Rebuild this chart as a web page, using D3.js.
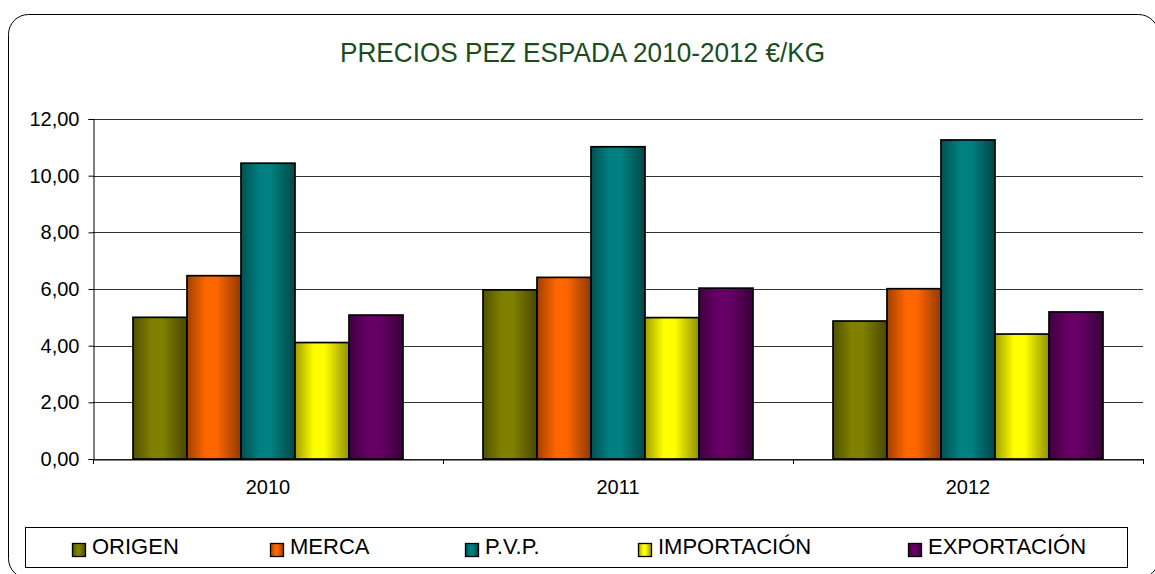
<!DOCTYPE html>
<html>
<head>
<meta charset="utf-8">
<script src="https://cdn.jsdelivr.net/npm/d3@7"></script>
<style>
  body { margin: 0; background: #fff; }
  svg text { font-family: "Liberation Sans", Arial, sans-serif; }
</style>
</head>
<body>
<div id="chart"></div>
<script>
// data
var years = ["2010", "2011", "2012"];
var series = ["ORIGEN", "MERCA", "P.V.P.", "IMPORTACIÓN", "EXPORTACIÓN"];
var colors = ["#808000", "#ff6600", "#008080", "#ffff00", "#660066"];
var origen = [5.00, 5.97, 4.87];
var merca = [6.47, 6.41, 6.01];
var pvp = [10.44, 11.02, 11.26];
var importacion = [4.11, 4.99, 4.41];
var exportacion = [5.08, 6.03, 5.19];
var yTicks = [0, 2, 4, 6, 8, 10, 12];

var values = [origen, merca, pvp, importacion, exportacion];

var W = 1155, H = 574;
var margin = { top: 119, right: 12, bottom: 115, left: 93 };
var width = W - margin.left - margin.right,
    height = H - margin.top - margin.bottom;

var svg = d3.select("#chart").append("svg")
    .attr("width", W)
    .attr("height", H);

// gradients for the bars (dark edges, bright middle)
var defs = svg.append("defs");
colors.forEach(function (c, i) {
  var g = defs.append("linearGradient").attr("id", "grad" + i)
    .attr("x1", "0%").attr("x2", "100%").attr("y1", "0%").attr("y2", "0%");
  var base = d3.color(c);
  g.append("stop").attr("offset", "0%").attr("stop-color", base.darker(1.3));
  g.append("stop").attr("offset", "35%").attr("stop-color", base);
  g.append("stop").attr("offset", "55%").attr("stop-color", base);
  g.append("stop").attr("offset", "100%").attr("stop-color", base.darker(1.6));
});

// outer rounded frame
svg.append("rect")
  .attr("x", 8.5).attr("y", 14.5)
  .attr("width", 1150).attr("height", 564)
  .attr("rx", 20).attr("ry", 20)
  .attr("fill", "#fff").attr("stroke", "#000").attr("stroke-width", 1);

// title (narrow look)
svg.append("text")
  .attr("x", 340).attr("y", 62)
  .attr("textLength", 485).attr("lengthAdjust", "spacingAndGlyphs")
  .style("font-size", "28px")
  .attr("fill", "#1b4d1b")
  .text("PRECIOS PEZ ESPADA 2010-2012 €/KG");

var g = svg.append("g")
  .attr("transform", "translate(" + margin.left + "," + margin.top + ")");

var x0 = d3.scaleBand().domain(years).range([0, width]).paddingInner(0).paddingOuter(0);
var inner = 270 / 350;
var x1 = d3.scaleBand().domain(series)
  .range([0, x0.bandwidth() * inner]);
var y = d3.scaleLinear().domain([0, 12]).range([height, 0]);

// gridlines
g.selectAll(".grid").data(yTicks).enter().append("line")
  .attr("x1", 0).attr("x2", width)
  .attr("y1", function (d) { return Math.round(y(d)) + 0.5; })
  .attr("y2", function (d) { return Math.round(y(d)) + 0.5; })
  .attr("stroke", "#333");

// bars
var groups = g.selectAll(".year").data(years).enter().append("g")
  .attr("transform", function (d) {
    return "translate(" + (x0(d) + x0.bandwidth() * (1 - inner) / 2) + ",0)";
  });

groups.selectAll("rect")
  .data(function (d, yi) {
    return series.map(function (s, si) { return { s: s, si: si, v: values[si][yi] }; });
  })
  .enter().append("rect")
  .attr("x", function (d) { return x1(d.s); })
  .attr("width", x1.bandwidth())
  .attr("y", function (d) { return y(d.v); })
  .attr("height", function (d) { return height - y(d.v); })
  .attr("fill", function (d) { return "url(#grad" + d.si + ")"; })
  .attr("stroke", "#000").attr("stroke-width", 1.7);

// y axis
var yAxis = g.append("g").attr("class", "y")
  .attr("transform", "translate(0.5,0)")
  .call(d3.axisLeft(y).tickValues(yTicks).tickSize(5).tickPadding(9)
    .tickFormat(function (d) { return d3.format(".2f")(d).replace(".", ","); }));
yAxis.select(".domain").attr("stroke", "#000");
yAxis.selectAll("text").style("font-size", "20px").attr("fill", "#000");

// x axis
var xAxis = g.append("g")
  .attr("transform", "translate(0," + (height + 0.5) + ")")
  .call(d3.axisBottom(x0).tickSize(0).tickPadding(20));
xAxis.select(".domain").attr("stroke", "#000");
xAxis.selectAll("text").style("font-size", "20px").attr("fill", "#000");
g.selectAll(".xtick").data(d3.range(years.length + 1)).enter().append("line")
  .attr("x1", function (i) { return Math.round(i * x0.step()) + 0.5; })
  .attr("x2", function (i) { return Math.round(i * x0.step()) + 0.5; })
  .attr("y1", height).attr("y2", height + 5)
  .attr("stroke", "#000");

// legend
var legend = svg.append("g");
legend.append("rect")
  .attr("x", 25.5).attr("y", 527.5).attr("width", 1102).attr("height", 40)
  .attr("fill", "#fff").attr("stroke", "#000");
var legendX = [72, 270, 465, 638, 908];
var items = legend.selectAll(".item").data(series).enter().append("g")
  .attr("transform", function (d, i) { return "translate(" + legendX[i] + ",543)"; });
items.append("rect")
  .attr("x", 0.5).attr("y", 0.5).attr("width", 13).attr("height", 13)
  .attr("fill", function (d, i) { return "url(#grad" + i + ")"; })
  .attr("stroke", "#000").attr("stroke-width", 1.3);
items.append("text")
  .attr("x", 20).attr("y", 10.5)
  .style("font-size", "22px")
  .text(function (d) { return d; });
</script>
</body>
</html>
